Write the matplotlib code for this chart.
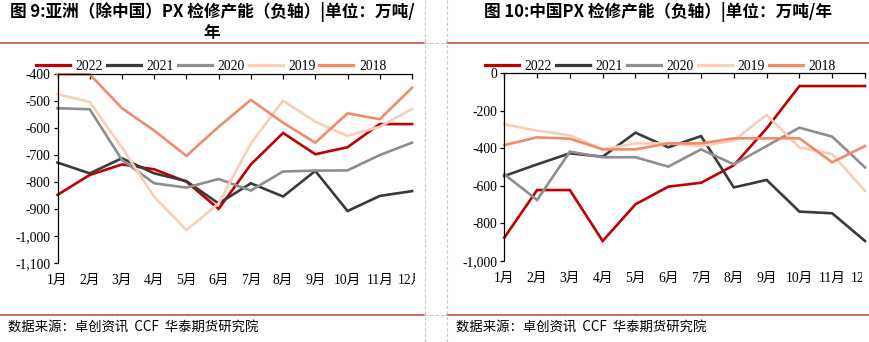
import matplotlib
matplotlib.use("Agg")
import matplotlib.pyplot as plt
from matplotlib.ticker import FuncFormatter
from matplotlib.transforms import Bbox, TransformedBbox
from matplotlib.lines import Line2D

# ---- data ----
months = ["1月", "2月", "3月", "4月", "5月", "6月", "7月", "8月", "9月", "10月", "11月", "12月"]
years = ["2022", "2021", "2020", "2019", "2018"]

# Asia (ex China) PX maintenance capacity, 10k t/yr (negative axis)
asia_2022 = [-848, -774, -735, -753, -799, -900, -735, -618, -697, -671, -585, -585]
asia_2021 = [-728, -768, -712, -768, -797, -880, -805, -854, -759, -908, -852, -834]
asia_2020 = [-526, -530, -718, -805, -821, -789, -832, -761, -758, -757, -700, -654]
asia_2019 = [-474, -503, -672, -855, -979, -880, -657, -498, -576, -629, -595, -529]
asia_2018 = [-400, -400, -526, -609, -703, -595, -495, -580, -654, -545, -567, -450]

# China PX maintenance capacity, 10k t/yr (negative axis)
china_2022 = [-877, -623, -623, -895, -699, -605, -584, -491, -294, -68, -68, -68]
china_2021 = [-548, -486, -427, -445, -317, -395, -335, -609, -569, -738, -747, -895]
china_2020 = [-539, -676, -418, -448, -448, -498, -406, -486, -388, -290, -338, -502]
china_2019 = [-272, -306, -331, -406, -374, -374, -388, -359, -222, -395, -431, -628]
china_2018 = [-383, -342, -349, -406, -406, -374, -374, -347, -347, -347, -475, -388]

asia_series = [asia_2022, asia_2021, asia_2020, asia_2019, asia_2018]
china_series = [china_2022, china_2021, china_2020, china_2019, china_2018]

colors = ["#C00000", "#3A3A3A", "#8E8E8E", "#FACDB8", "#F28A6B"]

serif = ["Liberation Serif", "Noto Sans CJK SC"]
cjk = ["Noto Sans CJK SC", "DejaVu Sans"]

W, H = 869, 342
fig = plt.figure(figsize=(W / 100, H / 100), dpi=100)


def px(x0, y0, x1, y1):
    """Figure-fraction rectangle from pixel box (top-left origin)."""
    return [x0 / W, 1 - y1 / H, (x1 - x0) / W, (y1 - y0) / H]


def panel(rect, series, ylo, yhi, ystep, clip_right, legend_cx):
    ax = fig.add_axes(px(*rect))
    x = list(range(1, len(months) + 1))
    for vals, c in zip(series, colors):
        ax.plot(x, vals, color=c, lw=1.9, clip_on=False, solid_joinstyle="miter")
    ax.set_xlim(1, 12)
    ax.set_ylim(ylo, yhi)
    ax.set_yticks(list(range(ylo, yhi + 1, ystep)))
    ax.yaxis.set_major_formatter(FuncFormatter(lambda v, p: f"{v:,.0f}"))
    ax.set_xticks(x)
    ax.set_xticklabels(months)
    for s in ["right", "bottom"]:
        ax.spines[s].set_visible(False)
    for s in ["left", "top"]:
        ax.spines[s].set_linewidth(0.9)
        ax.spines[s].set_color("#000000")
    ax.tick_params(axis="x", top=True, bottom=False, labeltop=False,
                   labelbottom=True, direction="in", length=3.3, width=0.9, pad=8)
    ax.tick_params(axis="y", direction="out", length=3, width=0.9, pad=2)
    for lab in ax.get_xticklabels() + ax.get_yticklabels():
        lab.set_fontfamily(serif)
        lab.set_fontsize(9.8)
    clip = TransformedBbox(Bbox([[0, 0], [clip_right / W, 1]]), fig.transFigure)
    for lab in ax.get_xticklabels():
        lab.set_clip_box(clip)
        lab.set_clip_on(True)
    handles = [Line2D([], [], color=c, lw=2.3) for c in colors]
    fig.legend(handles, years, loc="center", ncol=5, frameon=False,
               bbox_to_anchor=(legend_cx / W, 1 - 66 / H),
               prop={"family": serif, "size": 9.8},
               handlelength=2.5, handletextpad=0.4, columnspacing=0.3,
               borderpad=0, borderaxespad=0)
    return ax


panel((57.5, 74.3, 412, 262.7), asia_series, -1100, -400, 100, 415, 211)
panel((504.3, 73.3, 865, 260.7), china_series, -1000, 0, 200, 862, 660.5)

# ---- titles ----
fig.text(212 / W, 1 - 22 / H, "图 9:亚洲（除中国）PX 检修产能（负轴）|单位：万吨/\n年",
         ha="center", va="center", fontsize=12, fontweight="bold",
         family=cjk, linespacing=1.15, multialignment="center")
fig.text(658 / W, 1 - 12 / H, "图 10:中国PX 检修产能（负轴）|单位：万吨/年",
         ha="center", va="center", fontsize=12, fontweight="bold", family=cjk)

# ---- footers ----
src = "数据来源：卓创资讯  CCF  华泰期货研究院"
fig.text(8 / W, 1 - 328 / H, src, ha="left", va="center", fontsize=9.6, family=cjk)
fig.text(456 / W, 1 - 328 / H, src, ha="left", va="center", fontsize=9.6, family=cjk)

# ---- frame rules ----
red = "#C0504D"
grey = "#C8C8C8"
for y in (43, 315):
    fig.add_artist(Line2D([0, 424 / W], [1 - y / H] * 2, color=red, lw=1.2))
    fig.add_artist(Line2D([447 / W, 1], [1 - y / H] * 2, color=red, lw=1.2))
    fig.add_artist(Line2D([424 / W, 447 / W], [1 - y / H] * 2, color=grey,
                          lw=0.8, ls=(0, (3, 2))))
for x in (424.5, 447):
    fig.add_artist(Line2D([x / W] * 2, [0, 1], color=grey, lw=0.8, ls=(0, (3, 2))))

fig.savefig("out.png", dpi=100)
